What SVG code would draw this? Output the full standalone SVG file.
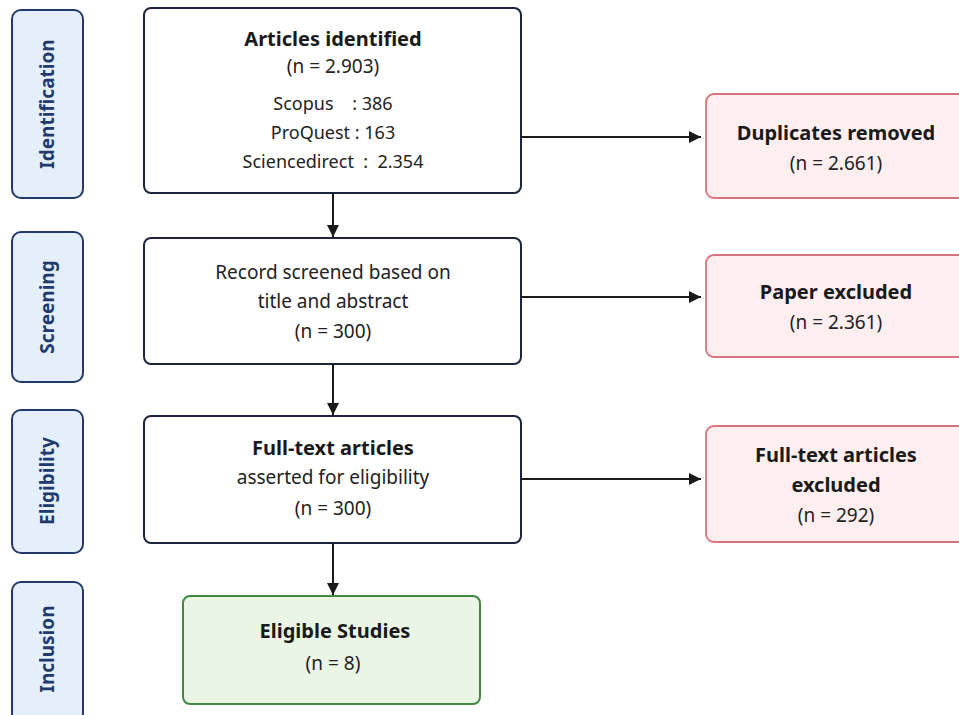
<svg xmlns="http://www.w3.org/2000/svg" width="959" height="715" viewBox="0 0 959 715">
<defs>
<marker id="ah" viewBox="0 0 12 12" refX="12" refY="6" markerWidth="12" markerHeight="12" markerUnits="userSpaceOnUse" orient="auto">
<path d="M0,0 L12,6 L0,12 z" fill="#1a1a1a"/>
</marker>
<style>
.stage rect{fill:#e5effa;stroke:#24396a;stroke-width:2}
.stage text{font-family:"Noto Sans","Liberation Sans",sans-serif;font-weight:bold;font-size:19px;fill:#203a6b;text-anchor:middle}
.main rect{fill:#ffffff;stroke:#1c2440;stroke-width:2}
.excl rect{fill:#fdeef0;stroke:#d8737d;stroke-width:1.8}
.incl rect{fill:#eaf5e6;stroke:#3f8a3f;stroke-width:2}
text{font-family:"Noto Sans","Liberation Sans",sans-serif;font-size:19px;fill:#222;text-anchor:middle}
.b{font-weight:bold;font-size:20px;fill:#1a1a1a}
.s{font-size:18px}
.conn line{stroke:#1a1a1a;stroke-width:2;marker-end:url(#ah)}
</style>
</defs>
<rect width="959" height="715" fill="#ffffff"/>
<g id="stage-identification" class="stage"><rect x="12" y="10" width="71" height="188" rx="9"/><text transform="translate(54,104) rotate(-90)">Identification</text></g>
<g id="stage-screening" class="stage"><rect x="12" y="232" width="71" height="150" rx="9"/><text transform="translate(54,307) rotate(-90)">Screening</text></g>
<g id="stage-eligibility" class="stage"><rect x="12" y="410" width="71" height="143" rx="9"/><text transform="translate(54,481) rotate(-90)">Eligibility</text></g>
<g id="stage-inclusion" class="stage"><rect x="12" y="582" width="71" height="140" rx="9"/><text transform="translate(54,649) rotate(-90)">Inclusion</text></g>

<g id="identified" class="main"><rect x="144" y="8" width="377" height="185" rx="7"/>
<text class="b" x="333" y="46">Articles identified</text>
<text x="333" y="73">(n = 2.903)</text>
<text class="s" x="333" y="110" xml:space="preserve">Scopus    : 386</text>
<text class="s" x="333" y="139" xml:space="preserve">ProQuest : 163</text>
<text class="s" x="333" y="168" xml:space="preserve">Sciencedirect  :  2.354</text></g>

<g id="screened" class="main"><rect x="144" y="238" width="377" height="126" rx="7"/>
<text x="333" y="279">Record screened based on</text>
<text x="333" y="308">title and abstract</text>
<text x="333" y="338">(n = 300)</text></g>

<g id="fulltext" class="main"><rect x="144" y="416" width="377" height="127" rx="7"/>
<text class="b" x="333" y="455">Full-text articles</text>
<text x="333" y="484">asserted for eligibility</text>
<text x="333" y="515">(n = 300)</text></g>

<g id="eligible" class="incl"><rect x="183" y="596" width="297" height="108" rx="7"/>
<text class="b" x="335" y="638">Eligible Studies</text>
<text x="333" y="670">(n = 8)</text></g>

<g id="duplicates" class="excl"><rect x="706" y="94" width="265" height="104" rx="8"/>
<text class="b" x="836" y="140">Duplicates removed</text>
<text x="836" y="170">(n = 2.661)</text></g>

<g id="paper-excluded" class="excl"><rect x="706" y="255" width="265" height="102" rx="8"/>
<text class="b" x="836" y="299">Paper excluded</text>
<text x="836" y="329">(n = 2.361)</text></g>

<g id="fulltext-excluded" class="excl"><rect x="706" y="426" width="265" height="116" rx="8"/>
<text class="b" x="836" y="462">Full-text articles</text>
<text class="b" x="836" y="492">excluded</text>
<text x="836" y="522">(n = 292)</text></g>

<g id="connectors" class="conn">
<line x1="333" y1="193" x2="333" y2="237"/>
<line x1="333" y1="364" x2="333" y2="415"/>
<line x1="333" y1="543" x2="333" y2="595"/>
<line x1="521" y1="137" x2="701" y2="137"/>
<line x1="521" y1="297" x2="701" y2="297"/>
<line x1="521" y1="479" x2="701" y2="479"/>
</g>
</svg>
